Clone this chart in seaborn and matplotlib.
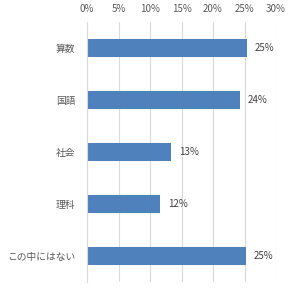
import matplotlib
matplotlib.use("Agg")
import matplotlib.pyplot as plt
import seaborn as sns
import pandas as pd
from matplotlib.ticker import PercentFormatter

categories = ["算数", "国語", "社会", "理科", "この中にはない"]
values = [25.4, 24.3, 13.4, 11.6, 25.3]
labels = ["25%", "24%", "13%", "12%", "25%"]

sns.set_theme(style="white")
plt.rcParams['font.family'] = ['Noto Sans CJK JP', 'DejaVu Sans']

df = pd.DataFrame({"cat": categories, "val": values})

fig = plt.figure(figsize=(3.0, 2.96), dpi=100)
ax = fig.add_axes([0.29, 0.0473, 0.63, 0.8784])
sns.barplot(data=df, x="val", y="cat", color="#4F81BD", width=0.36, ax=ax,
            saturation=1, orient="h", linewidth=0)

ax.set_xlim(0, 30)
ax.set_xticks([0, 5, 10, 15, 20, 25, 30])
ax.xaxis.set_major_formatter(PercentFormatter(decimals=0))
ax.xaxis.tick_top()
ax.tick_params(axis='x', length=0, pad=6, labelsize=7, labelcolor="#595959")
ax.tick_params(axis='y', length=0, pad=8.5, labelsize=7, labelcolor="#595959")
ax.set_xlabel("")
ax.set_ylabel("")
ax.set_ylim(4.5, -0.5)
ax.grid(axis='x', color="#D9D9D9", linewidth=0.8)
ax.set_axisbelow(True)
for s in ["top", "right", "bottom"]:
    ax.spines[s].set_visible(False)
ax.spines["left"].set_color("#D9D9D9")
ax.spines["left"].set_linewidth(0.8)

for i, (v, lab) in enumerate(zip(values, labels)):
    ax.text(v + 1.2, i, lab, va="center", ha="left", fontsize=7, color="#404040")

fig.savefig("out.png", dpi=100)
